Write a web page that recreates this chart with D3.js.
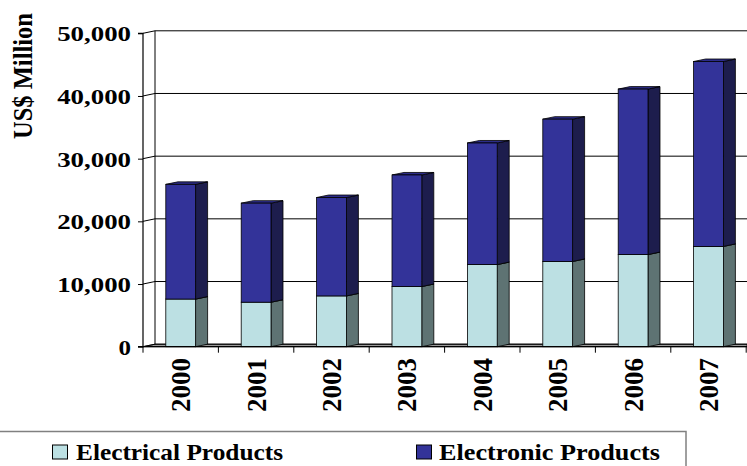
<!DOCTYPE html>
<html>
<head>
<meta charset="utf-8">
<script src="https://cdn.jsdelivr.net/npm/d3@7"></script>
<style>
  html, body { margin: 0; padding: 0; background: #fff; }
  svg text { font-family: "Liberation Serif", "Times New Roman", serif; font-weight: bold; }
</style>
</head>
<body>
<svg id="chart" width="747" height="466"></svg>
<script>
// Export values, US$ million
const years = ["2000", "2001", "2002", "2003", "2004", "2005", "2006", "2007"];
const electrical = [7600, 7100, 8100, 9600, 13100, 13600, 14700, 16000];
const electronic = [18300, 15800, 15700, 17800, 19400, 22700, 26400, 29500];
const seriesNames = ["Electrical Products", "Electronic Products"];
const yTicks = [0, 10000, 20000, 30000, 40000, 50000];

const SERIF = "'Liberation Serif', 'Times New Roman', serif";
const svg = d3.select("#chart");

// 3-D depth offset of the wall and bars
const DX = 12, DY = -2.5;

const x = d3.scaleBand().domain(years).range([143, 746.2]).paddingInner(0).paddingOuter(0);
const xEdge = d3.scaleLinear().domain([0, years.length]).range([143, 746.2]);
const y = d3.scaleLinear().domain([0, 50000]).range([346.7, 33.3]);

const colors = {
  elec:  { front: "#BCE0E3", side: "#5E7373", top: "#A9CBCE" },
  tron:  { front: "#333399", side: "#1D1D4D", top: "#2C2C88" }
};

// Floor strip
svg.append("path")
  .attr("d", `M${x.range()[0]},${y(0)} L${x.range()[0] + DX},${y(0) + DY} L747,${y(0) + DY} L747,${y(0)} Z`)
  .attr("fill", "#9a9a9a").attr("stroke", "#000").attr("stroke-width", 0.8);

// Back wall gridlines with diagonal connectors to the front axis
const grid = svg.append("g");
yTicks.forEach(t => {
  const yf = y(t), yb = y(t) + DY;
  grid.append("path")
    .attr("d", `M143,${yf} L${143 + DX},${yb} L747,${yb}`)
    .attr("fill", "none").attr("stroke", "#000").attr("stroke-width", 1);
});
// Back wall left edge
grid.append("line")
  .attr("x1", 143 + DX).attr("x2", 143 + DX)
  .attr("y1", y(50000) + DY).attr("y2", y(0) + DY)
  .attr("stroke", "#000").attr("stroke-width", 1);

// Stacked 3-D bars
const barW = 29.8;
const stacks = years.map((yr, i) => {
  const a = electrical[i], b = electronic[i];
  return [
    { key: "elec", y0: 0, y1: a, yr },
    { key: "tron", y0: a, y1: a + b, yr }
  ];
});

const bars = svg.append("g");
stacks.forEach(stack => {
  stack.forEach(seg => {
    const cx = x(seg.yr) + x.bandwidth() / 2;
    const xl = cx - barW / 2, xr = cx + barW / 2;
    const yt = y(seg.y1), yb = y(seg.y0);
    const c = colors[seg.key];
    // side face
    bars.append("path")
      .attr("d", `M${xr},${yt} L${xr + DX},${yt + DY} L${xr + DX},${yb + DY} L${xr},${yb} Z`)
      .attr("fill", c.side).attr("stroke", "#000").attr("stroke-width", 0.8);
    // top face
    bars.append("path")
      .attr("d", `M${xl},${yt} L${xl + DX},${yt + DY} L${xr + DX},${yt + DY} L${xr},${yt} Z`)
      .attr("fill", c.top).attr("stroke", "#000").attr("stroke-width", 0.8);
    // front face
    bars.append("rect")
      .attr("x", xl).attr("y", yt).attr("width", barW).attr("height", yb - yt)
      .attr("fill", c.front).attr("stroke", "#000").attr("stroke-width", 0.8);
  });
});

// Value axis
const yAxis = d3.axisLeft(y).tickValues(yTicks).tickFormat(d3.format(",")).tickSize(5).tickPadding(7);
const yg = svg.append("g").attr("transform", "translate(143,0)").call(yAxis)
  .attr("font-family", SERIF).attr("font-size", 22);
yg.select(".domain").attr("stroke", "#000").attr("stroke-width", 1.2).attr("d", `M-5,${y(50000)}H0V${y(0)}H-5`);
yg.selectAll(".tick line").attr("stroke", "#000");
yg.selectAll(".tick text")
  .attr("fill", "#000")
  .attr("font-family", SERIF)
  .attr("font-weight", "bold")
  .attr("font-size", 22)
  .attr("dy", "0.34em")
  .each(function() {
    const w = this.textContent.length > 1 ? this.textContent.length * 12.3 : 12.5;
    d3.select(this).attr("textLength", w).attr("lengthAdjust", "spacingAndGlyphs");
  });

// Category axis: baseline with ticks at category boundaries
const xg = svg.append("g");
xg.append("line")
  .attr("x1", 143).attr("x2", 747).attr("y1", y(0)).attr("y2", y(0))
  .attr("stroke", "#000").attr("stroke-width", 1.2);
xg.selectAll("line.edge")
  .data(d3.range(years.length + 1))
  .join("line")
  .attr("class", "edge")
  .attr("x1", d => xEdge(d)).attr("x2", d => xEdge(d))
  .attr("y1", y(0)).attr("y2", y(0) + 6)
  .attr("stroke", "#000").attr("stroke-width", 1);
xg.selectAll("text.year")
  .data(years)
  .join("text")
  .attr("class", "year")
  .attr("transform", d => `translate(${x(d) + x.bandwidth() / 2 + 9.5},358) rotate(-90)`)
  .attr("text-anchor", "end")
  .attr("font-family", SERIF).attr("font-weight", "bold")
  .attr("font-size", 28)
  .attr("textLength", 54).attr("lengthAdjust", "spacingAndGlyphs")
  .attr("fill", "#000")
  .text(d => d);

// Value axis title
svg.append("text")
  .attr("transform", "translate(32,76) rotate(-90)")
  .attr("text-anchor", "middle")
  .attr("font-family", SERIF).attr("font-weight", "bold")
  .attr("font-size", 27)
  .attr("textLength", 126).attr("lengthAdjust", "spacingAndGlyphs")
  .attr("fill", "#000")
  .text("US$ Million");

// Legend
const lg = svg.append("g");
lg.append("rect")
  .attr("x", -2).attr("y", 431.5).attr("width", 688).attr("height", 50)
  .attr("fill", "#fff").attr("stroke", "#808080").attr("stroke-width", 1.5);
const legendItems = [
  { name: seriesNames[0], color: colors.elec.front, sx: 52.5, tx: 76, tl: 207 },
  { name: seriesNames[1], color: colors.tron.front, sx: 416.5, tx: 439, tl: 221 }
];
legendItems.forEach(it => {
  lg.append("rect")
    .attr("x", it.sx).attr("y", 445).attr("width", 15).attr("height", 14)
    .attr("fill", it.color).attr("stroke", "#000").attr("stroke-width", 1);
  lg.append("text")
    .attr("x", it.tx).attr("y", 459.5)
    .attr("font-family", SERIF).attr("font-weight", "bold")
    .attr("font-size", 24)
    .attr("textLength", it.tl).attr("lengthAdjust", "spacingAndGlyphs")
    .attr("fill", "#000")
    .text(it.name);
});
</script>
</body>
</html>
